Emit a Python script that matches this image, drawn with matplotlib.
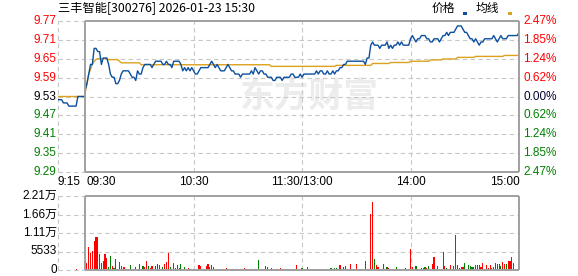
import matplotlib
matplotlib.use("Agg")
import matplotlib.pyplot as plt
from matplotlib.patches import Rectangle
import numpy as np

# ---------------- data ----------------
title = "三丰智能[300276] 2026-01-23 15:30"
prev_close = 9.53
pct_limit = 2.47
price_labels = ["9.77", "9.71", "9.65", "9.59", "9.53", "9.47", "9.41", "9.35", "9.29"]
pct_labels = ["2.47%", "1.85%", "1.24%", "0.62%", "0.00%", "0.62%", "1.24%", "1.85%", "2.47%"]
time_ticks = [-15, 0, 60, 120, 180, 240]
time_labels = ["9:15", "09:30", "10:30", "11:30/13:00", "14:00", "15:00"]
vol_ticks = [0, 5533, 11066, 16599, 22132]
vol_labels = ["0", "5533", "1.11万", "1.66万", "2.21万"]

# call auction 9:15 .. 9:30 (one value per minute)
pre_price = [9.52, 9.52, 9.52, 9.51, 9.51, 9.51, 9.50, 9.50, 9.50, 9.50,
             9.50, 9.53, 9.53, 9.53, 9.53, 9.53]
pre_avg = [9.53] * 16
pre_vol_minute = [-5]
pre_volume = [400]

# continuous session, minutes 0..240 after 9:30
price = [
    9.55, 9.57, 9.60, 9.63, 9.63, 9.68, 9.68, 9.67, 9.67, 9.63,
    9.65, 9.65, 9.65, 9.63, 9.60, 9.59, 9.59, 9.57, 9.57, 9.58,
    9.60, 9.61, 9.61, 9.61, 9.61, 9.60, 9.59, 9.59, 9.58, 9.61,
    9.60, 9.60, 9.62, 9.63, 9.63, 9.63, 9.63, 9.62, 9.63, 9.64,
    9.64, 9.64, 9.64, 9.63, 9.63, 9.64, 9.63, 9.63, 9.62, 9.64,
    9.64, 9.64, 9.64, 9.63, 9.61, 9.62, 9.61, 9.62, 9.61, 9.62,
    9.61, 9.60, 9.60, 9.61, 9.62, 9.62, 9.62, 9.62, 9.62, 9.63,
    9.64, 9.63, 9.62, 9.63, 9.62, 9.61, 9.61, 9.61, 9.62, 9.63,
    9.62, 9.61, 9.61, 9.60, 9.60, 9.60, 9.59, 9.60, 9.60, 9.60,
    9.60, 9.60, 9.61, 9.60, 9.62, 9.61, 9.60, 9.61, 9.61, 9.60,
    9.60, 9.59, 9.59, 9.59, 9.58, 9.58, 9.59, 9.59, 9.59, 9.58,
    9.59, 9.59, 9.59, 9.59, 9.60, 9.60, 9.59, 9.59, 9.59, 9.60,
    9.59, 9.60, 9.60, 9.60, 9.60, 9.60, 9.60, 9.60, 9.61, 9.60,
    9.61, 9.61, 9.60, 9.60, 9.61, 9.60, 9.60, 9.61, 9.60, 9.61,
    9.61, 9.62, 9.62, 9.63, 9.63, 9.64, 9.64, 9.64, 9.64, 9.64,
    9.64, 9.64, 9.64, 9.64, 9.64, 9.63, 9.65, 9.65, 9.69, 9.70,
    9.69, 9.69, 9.69, 9.68, 9.69, 9.69, 9.69, 9.70, 9.68, 9.69,
    9.68, 9.69, 9.69, 9.70, 9.69, 9.70, 9.69, 9.69, 9.69, 9.69,
    9.71, 9.72, 9.71, 9.70, 9.71, 9.71, 9.72, 9.72, 9.72, 9.71,
    9.71, 9.70, 9.70, 9.71, 9.71, 9.71, 9.70, 9.71, 9.72, 9.72,
    9.73, 9.72, 9.73, 9.73, 9.73, 9.74, 9.75, 9.75, 9.75, 9.74,
    9.73, 9.73, 9.72, 9.71, 9.71, 9.70, 9.71, 9.70, 9.69, 9.70,
    9.70, 9.71, 9.71, 9.71, 9.71, 9.71, 9.72, 9.71, 9.70, 9.71,
    9.72, 9.71, 9.71, 9.71, 9.72, 9.72, 9.72, 9.72, 9.72, 9.72,
    9.73,
]

avg_price = (
    [9.54, 9.57, 9.60, 9.615, 9.63, 9.64, 9.645, 9.648, 9.648, 9.648,
     9.648, 9.648, 9.648, 9.645, 9.645, 9.645, 9.645, 9.645, 9.645, 9.64]
    + [9.635] * 11 + [9.629] * 72 + [9.624] * 36 + [9.627] * 20
    + [9.633] * 10 + [9.636] * 11 + [9.640] * 11 + [9.644] * 7
    + [9.647] * 8 + [9.652] * 10 + [9.655] * 16 + [9.658] * 9
)

# volume per minute, minutes 1..240 ; direction r=up (red), g=down (green)
volume = [
    2200, 6900, 5200, 5700, 8800, 9900, 9900, 4800, 2100, 2700,
    4800, 3600, 900, 4200, 1200, 600, 3300, 300, 2400, 1200,
    900, 900, 300, 300, 1500, 300, 300, 900, 300, 1800,
    300, 1200, 900, 2700, 1200, 600, 1200, 300, 1200, 1800,
    1500, 300, 900, 1800, 2400, 5100, 900, 300, 2100, 600,
    1500, 600, 1800, 300, 900, 300, 600, 300, 300, 300,
    300, 300, 1500, 1200, 300, 300, 1200, 1800, 900, 1500,
    900, 300, 300, 300, 300, 300, 300, 600, 300, 300,
    300, 300, 300, 300, 300, 300, 300, 600, 300, 300,
    300, 300, 300, 300, 300, 3000, 300, 300, 300, 1200,
    900, 300, 600, 300, 300, 300, 300, 600, 300, 300,
    300, 300, 300, 300, 300, 300, 1500, 300, 300, 600,
    300, 300, 900, 300, 300, 300, 300, 300, 300, 300,
    300, 300, 300, 300, 300, 600, 300, 600, 600, 300,
    1500, 300, 900, 1200, 300, 300, 1800, 300, 300, 1800,
    300, 300, 300, 300, 2700, 300, 300, 16800, 20400, 3300,
    1500, 900, 300, 300, 1800, 300, 900, 600, 300, 300,
    300, 900, 300, 300, 300, 300, 600, 300, 300, 6300,
    900, 300, 1200, 300, 300, 600, 600, 900, 600, 1200,
    300, 1800, 3900, 300, 1200, 300, 300, 5400, 1200, 600,
    300, 1500, 300, 1200, 10500, 1500, 600, 900, 900, 2100,
    300, 1500, 1200, 900, 900, 1500, 1500, 1500, 900, 2100,
    300, 1500, 600, 1500, 600, 900, 2100, 1800, 1800, 1200,
    2400, 1800, 1800, 2700, 2700, 3900, 2100, 300, 300, 5100,
]
vol_dir = (
    "rrrrrrgrgr" "rrggrgggrr" "rrrrggrgrr" "ggrrgrrrrr" "rrgrrrggrg"
    "rrgrgrrggg" "grrrrrrrgr" "rrrgrrgrrg" "rgrrgrrrgr" "grgrggrgrg"
    "grrrgrrrrg" "rgrrgrrgrg" "rrrrrgrrgr" "grrgrgrggr" "rgrgrrrggr"
    "grrrrrgrrg" "rrggrrgrrg" "rgrrrrrgrr" "rggrrgrgrg" "rrrggrrrrg"
    "rrrgrgggrg" "rgggrrgrrr" "grrrrrgrrg" "rrgrrrrrgr"
)

# ---------------- style ----------------
BLUE = "#0b4f9e"
ORANGE = "#dca11d"
RED = "#ff0000"
GREEN = "#008000"
GRID = "#c8c8c8"
BORDER = "#a0a0a0"
NUMFONT = ["Liberation Sans", "Noto Sans CJK SC"]
CJK = ["Noto Sans CJK SC", "DejaVu Sans"]

W, H = 578, 276
fig = plt.figure(figsize=(W / 100, H / 100), dpi=100)
fig.patch.set_facecolor("white")

L, R = 58, 519
ax = fig.add_axes([L / W, (H - 172) / H, (R - L) / W, 151 / H])
axv = fig.add_axes([L / W, (H - 270) / H, (R - L) / W, 74 / H])

x0, x1 = time_ticks[0], time_ticks[-1]
top = prev_close * (1 + pct_limit / 100)
bot = prev_close * (1 - pct_limit / 100)
levels = np.linspace(top, bot, len(price_labels))

dash = (0, (4, 3))
for a in (ax, axv):
    a.axis("off")
    a.set_xlim(x0, x1)

ax.set_ylim(bot, top)
axv.set_ylim(0, vol_ticks[-1])

def frame(a, ys, ymin, ymax):
    for yv in ys[1:-1]:
        a.plot([x0, x1], [yv, yv], color=GRID, lw=0.8, ls=dash, zorder=1, clip_on=False)
    for yv in (ys[0], ys[-1]):
        a.plot([x0, 0], [yv, yv], color=GRID, lw=0.8, ls=dash, zorder=1, clip_on=False)
        a.plot([0, x1], [yv, yv], color=BORDER, lw=1.4, zorder=5, clip_on=False, solid_capstyle="butt")
    a.plot([x0, x0], [ymin, ymax], color=GRID, lw=0.8, ls=dash, zorder=1, clip_on=False)
    for xv in time_ticks[2:-1]:
        a.plot([xv, xv], [ymin, ymax], color=GRID, lw=0.8, ls=dash, zorder=1, clip_on=False)
    for xv in (0, x1):
        a.plot([xv, xv], [ymin, ymax], color=BORDER, lw=1.4, zorder=5, clip_on=False, solid_capstyle="butt")

frame(ax, list(levels), bot, top)
frame(axv, vol_ticks, 0, vol_ticks[-1])

# watermark
ax.text(124, prev_close, "东方财富", fontsize=25, fontweight="bold", color="#ececec",
        ha="center", va="center", family=CJK, zorder=0)

# price and average lines
pre_x = np.arange(x0, 1)
main_x = np.arange(0, len(price))
ax.plot(np.concatenate([pre_x, main_x]), pre_price + price, color=BLUE, lw=1.0, zorder=4)
ax.plot(np.concatenate([pre_x, main_x]), pre_avg + avg_price, color=ORANGE, lw=1.0, zorder=3)

# volume bars
vx = np.arange(1, len(volume) + 1)
colors = [RED if c == "r" else GREEN for c in vol_dir]
axv.bar(vx, volume, width=0.62, color=colors, linewidth=0, zorder=3)
axv.bar(pre_vol_minute, pre_volume, width=0.62, color=RED, linewidth=0, zorder=3)

# left / right price labels
mid = len(levels) // 2
for k, (yv, pl, cl) in enumerate(zip(levels, price_labels, pct_labels)):
    c = RED if k < mid else ("#000000" if k == mid else GREEN)
    ax.text(-0.004, yv, pl, transform=ax.get_yaxis_transform(), ha="right", va="center",
            fontsize=8.5, color=c, family=NUMFONT)
    c2 = RED if k < mid else ("#000033" if k == mid else GREEN)
    ax.text(1.009, yv, cl, transform=ax.get_yaxis_transform(), ha="left", va="center",
            fontsize=8.5, color=c2, family=NUMFONT)

# volume labels
for yv, lab in zip(vol_ticks, vol_labels):
    axv.text(-0.002, yv, lab, transform=axv.get_yaxis_transform(), ha="right", va="center",
             fontsize=8.5, color="#000000", family=NUMFONT)

# time labels
ty = (H - 182) / H
for xv, lab in zip(time_ticks, time_labels):
    xf = (L + (xv - x0) * (R - L) / (x1 - x0)) / W
    if xv == x0:
        fig.text(L / W, ty, lab, ha="left", va="center", fontsize=8.5, family=NUMFONT)
    elif xv == 0:
        fig.text(xf + 1.5 / W, ty, lab, ha="left", va="center", fontsize=8.5, family=NUMFONT)
    elif xv == x1:
        fig.text(xf + 1 / W, ty, lab, ha="right", va="center", fontsize=8.5, family=NUMFONT)
    else:
        fig.text(xf, ty, lab, ha="center", va="center", fontsize=8.5, family=NUMFONT)

# title and legend
fig.text(L / W, 1 - 8.7 / H, title, ha="left", va="center", fontsize=8.8, family=CJK)
fig.text(432 / W, 1 - 8.7 / H, "价格", ha="left", va="center", fontsize=8.5, family=CJK)
fig.text(476 / W, 1 - 8.7 / H, "均线", ha="left", va="center", fontsize=8.5, family=CJK)
fig.add_artist(Rectangle((463 / W, 1 - 14.7 / H), 4 / W, 2.2 / H, transform=fig.transFigure,
                         color=BLUE, lw=0))
fig.add_artist(Rectangle((508 / W, 1 - 14.7 / H), 4 / W, 2.2 / H, transform=fig.transFigure,
                         color=ORANGE, lw=0))

fig.savefig("out.png", dpi=100, facecolor="white")
